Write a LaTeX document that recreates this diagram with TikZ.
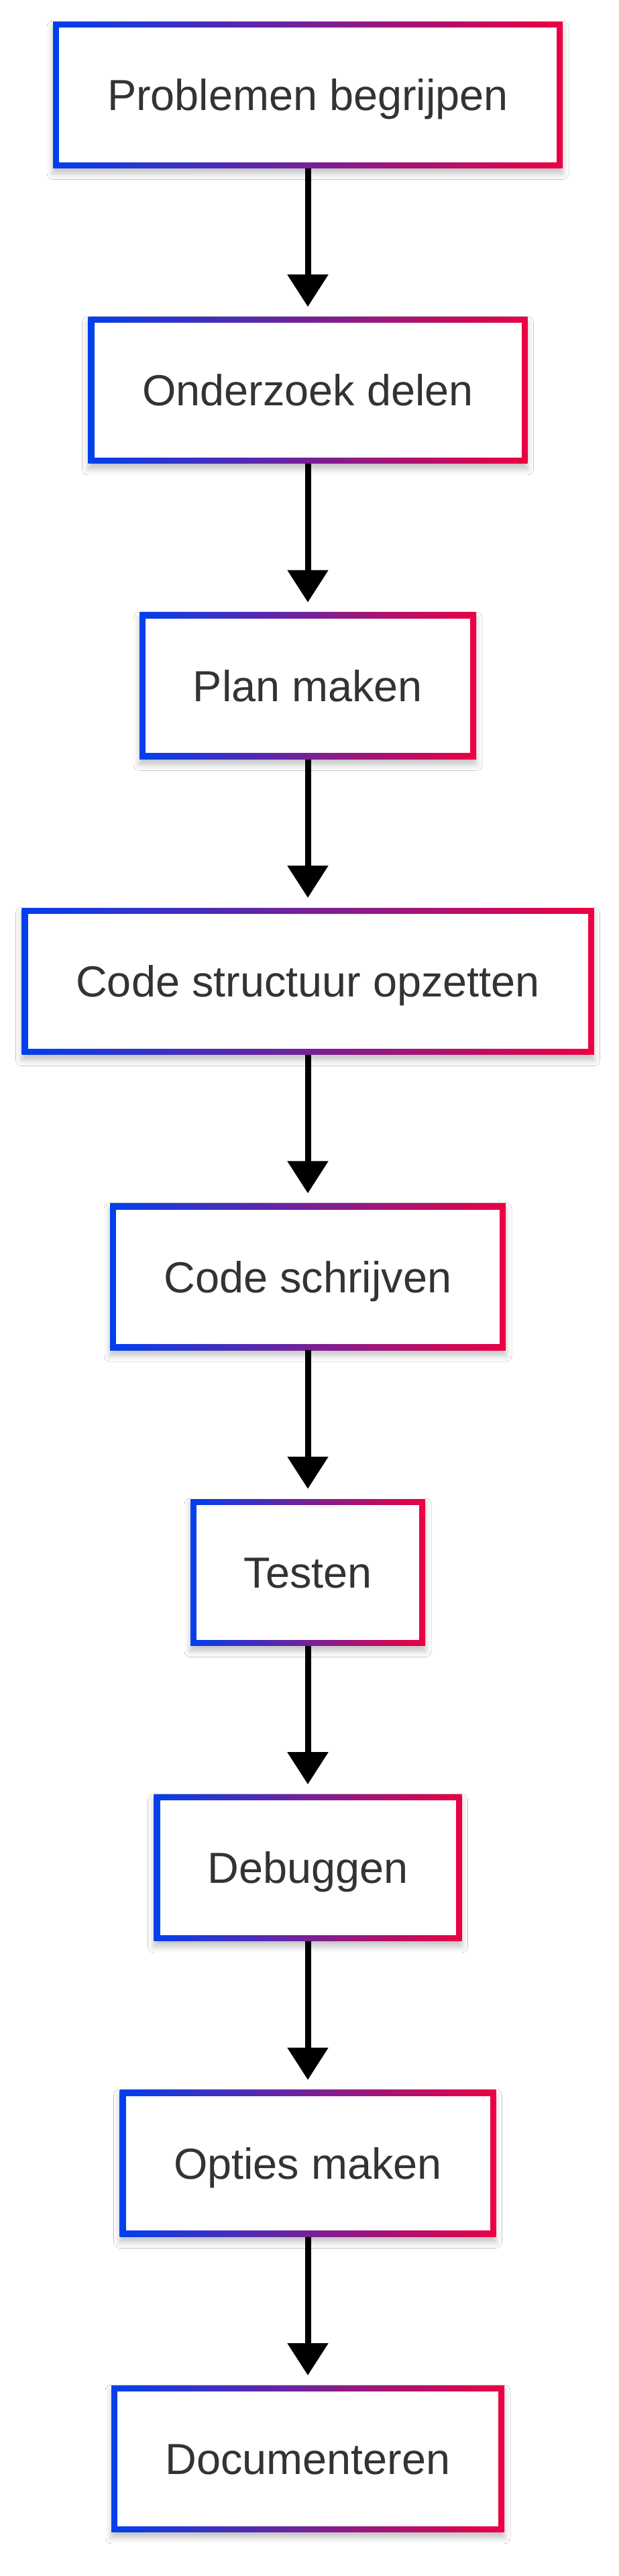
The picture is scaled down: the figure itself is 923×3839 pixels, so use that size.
\documentclass[tikz,border=0pt]{standalone}
\usepackage{fontspec}
\setmainfont{Liberation Sans}
\usetikzlibrary{arrows.meta,shadows.blur}
\definecolor{gblue}{RGB}{0,64,238}
\definecolor{gred}{RGB}{236,0,66}
\definecolor{txtgray}{RGB}{51,51,51}
\tikzset{
  flowbox/.style={rectangle, minimum height=218.5pt, minimum width=#1, inner sep=0pt,
    text=txtgray, font=\fontsize{64.8}{78}\selectfont, text height=46.4pt, text depth=0pt,
    fill=white,
    blur shadow={shadow xshift=0pt, shadow yshift=-8pt, shadow blur radius=9pt, shadow opacity=24},
    path picture={
      \shade[left color=gblue, right color=gred]
        (path picture bounding box.south west) rectangle (path picture bounding box.north east);
      \fill[white]
        ([shift={(9pt,-9pt)}]path picture bounding box.north west) rectangle
        ([shift={(-9pt,9pt)}]path picture bounding box.south east);
    }},
  flowarrow/.style={draw=black, line width=9pt, -{Triangle[length=48pt,width=59pt]}, shorten >=15pt}
}
\begin{document}
\begin{tikzpicture}[x=1pt,y=-1pt]
\fill[white] (0,0) rectangle (923,3839);
\useasboundingbox (0,0) rectangle (923,3839);
\node[flowbox=760pt] (n1) at (459,141.25) {Problemen begrijpen};
\node[flowbox=655pt] (n2) at (459,581.65) {Onderzoek delen};
\node[flowbox=502pt] (n3) at (459,1022.05) {Plan maken};
\node[flowbox=853pt] (n4) at (459,1462.45) {Code structuur opzetten};
\node[flowbox=590pt] (n5) at (459,1902.85) {Code schrijven};
\node[flowbox=350pt] (n6) at (459,2343.25) {Testen};
\node[flowbox=459pt] (n7) at (459,2783.65) {Debuggen};
\node[flowbox=561pt] (n8) at (459,3224.05) {Opties maken};
\node[flowbox=586pt] (n9) at (459,3664.45) {Documenteren};
\draw[flowarrow] (n1) -- (n2);
\draw[flowarrow] (n2) -- (n3);
\draw[flowarrow] (n3) -- (n4);
\draw[flowarrow] (n4) -- (n5);
\draw[flowarrow] (n5) -- (n6);
\draw[flowarrow] (n6) -- (n7);
\draw[flowarrow] (n7) -- (n8);
\draw[flowarrow] (n8) -- (n9);
\end{tikzpicture}
\end{document}
